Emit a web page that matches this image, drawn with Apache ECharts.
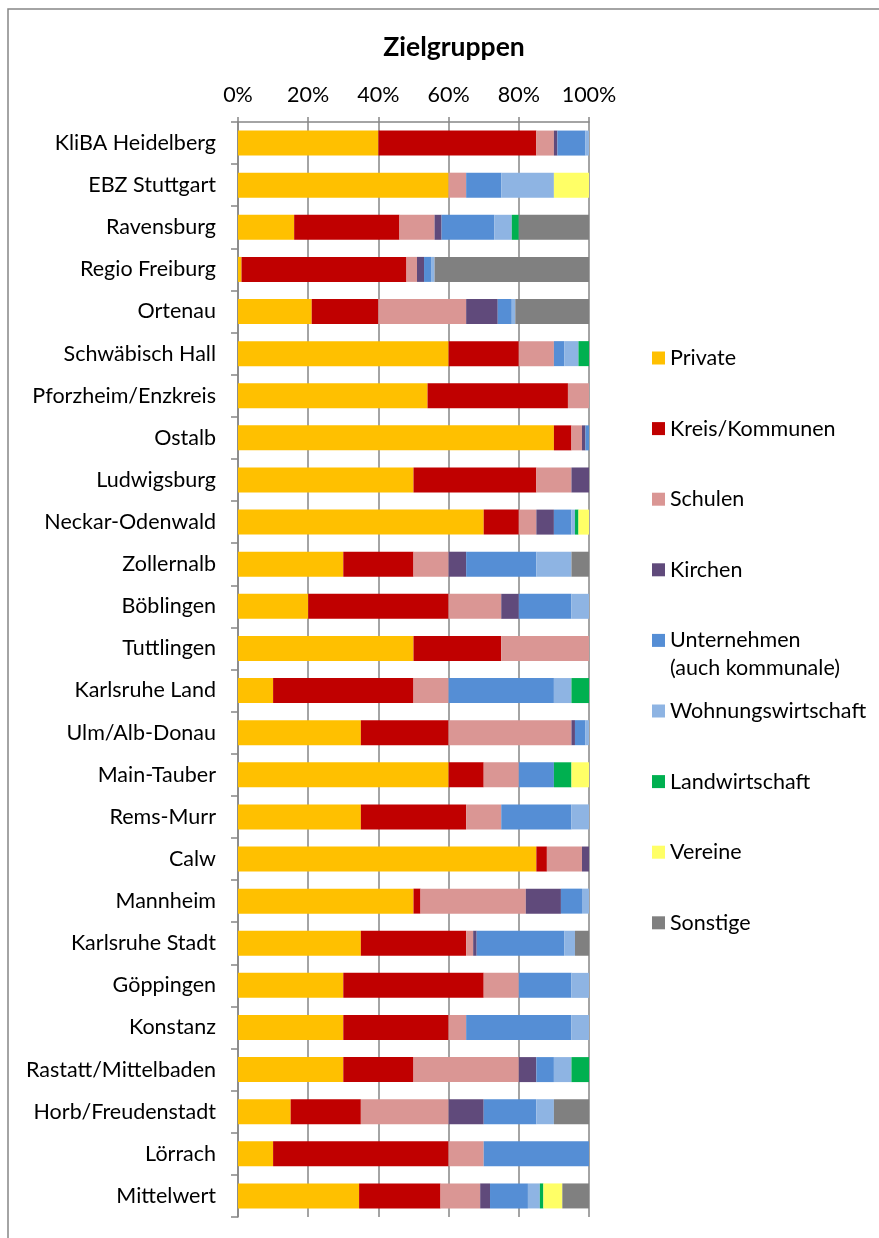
<!DOCTYPE html>
<html>
<head>
<meta charset="utf-8">
<script src="https://cdn.jsdelivr.net/npm/echarts@6/dist/echarts.min.js"></script>
<style>
  html, body { margin: 0; padding: 0; background: #fff; overflow: hidden; }
  #chart { width: 879px; height: 1238px; }
</style>
</head>
<body>
<div id="chart"></div>
<script>
// Regionen (von oben nach unten)
const regionen = ['KliBA Heidelberg', 'EBZ Stuttgart', 'Ravensburg', 'Regio Freiburg', 'Ortenau',
    'Schwäbisch Hall', 'Pforzheim/Enzkreis', 'Ostalb', 'Ludwigsburg', 'Neckar-Odenwald',
    'Zollernalb', 'Böblingen', 'Tuttlingen', 'Karlsruhe Land', 'Ulm/Alb-Donau', 'Main-Tauber',
    'Rems-Murr', 'Calw', 'Mannheim', 'Karlsruhe Stadt', 'Göppingen', 'Konstanz',
    'Rastatt/Mittelbaden', 'Horb/Freudenstadt', 'Lörrach', 'Mittelwert'];

// Anteile je Zielgruppe in %
const privat        = [40, 60, 16, 1, 21, 60, 54, 90, 50, 70, 30, 20, 50, 10, 35, 60, 35, 85, 50, 35, 30, 30, 30, 15, 10, 34.5];
const kreis         = [45, 0, 30, 47, 19, 20, 40, 5, 35, 10, 20, 40, 25, 40, 25, 10, 30, 3, 2, 30, 40, 30, 20, 20, 50, 23.2];
const schulen       = [5, 5, 10, 3, 25, 10, 6, 3, 10, 5, 10, 15, 25, 10, 35, 10, 10, 10, 30, 2, 10, 5, 30, 25, 10, 11.3];
const kirchen       = [1, 0, 2, 2, 9, 0, 0, 1, 5, 5, 5, 5, 0, 0, 1, 0, 0, 2, 10, 1, 0, 0, 5, 10, 0, 2.8];
const unternehmen   = [8, 10, 15, 2, 4, 3, 0, 1, 0, 5, 20, 15, 0, 30, 3, 10, 20, 0, 6, 25, 15, 30, 5, 15, 30, 10.8];
const wohnung       = [1, 15, 5, 1, 1, 4, 0, 0, 0, 1, 10, 5, 0, 5, 1, 0, 5, 0, 2, 3, 5, 5, 5, 5, 0, 3.4];
const landwirtschaft = [0, 0, 2, 0, 0, 3, 0, 0, 0, 1, 0, 0, 0, 5, 0, 5, 0, 0, 0, 0, 0, 0, 5, 0, 0, 1.0];
const vereine       = [0, 10, 0, 0, 0, 0, 0, 0, 0, 3, 0, 0, 0, 0, 0, 5, 0, 0, 0, 0, 0, 0, 0, 0, 0, 5.4];
const sonstige      = [0, 0, 20, 44, 21, 0, 0, 0, 0, 0, 5, 0, 0, 0, 0, 0, 0, 0, 0, 4, 0, 0, 0, 10, 0, 7.6];

const gruppen = ['Private', 'Kreis/Kommunen', 'Schulen', 'Kirchen', 'Unternehmen (auch kommunale)',
    'Wohnungswirtschaft', 'Landwirtschaft', 'Vereine', 'Sonstige'];
const werte = [privat, kreis, schulen, kirchen, unternehmen, wohnung, landwirtschaft, vereine, sonstige];
const farben = ['#FFC000', '#C00000', '#DA9694', '#604A7B', '#558ED5', '#8EB4E3', '#00B050', '#FFFF66', '#808080'];
const xTicks = [0, 20, 40, 60, 80, 100];

const FONT = 'Lato';
const GRAU = '#868686';

// Legende: jeder Eintrag einzeln, damit die Abstaende wie im Original sind
function buildLegends() {
    return gruppen.map((name, i) => {
        const mitte = 358 + i * 70.6;
        const zweizeilig = name.indexOf('(') > 0;
        return {
            data: [name],
            orient: 'vertical',
            left: 652,
            top: zweizeilig ? mitte - 42 : mitte - 12,
            padding: 0,
            itemWidth: 13,
            itemHeight: 13,
            icon: 'rect',
            selectedMode: false,
            // leere erste Zeile, damit das Symbol neben der ersten Textzeile steht
            formatter: n => (n.indexOf('(') > 0 ? '\n' + n.replace(' (', '\n(') : n),
            textStyle: {
                fontFamily: FONT,
                fontSize: 21.5,
                color: '#000',
                lineHeight: zweizeilig ? 28 : 24
            }
        };
    });
}

const chart = echarts.init(document.getElementById('chart'));
chart.setOption({
    animation: false,
    backgroundColor: '#fff',
    title: {
        text: 'Zielgruppen',
        left: 449,
        top: 29,
        textAlign: 'center',
        textStyle: { fontFamily: FONT, fontSize: 26.5, fontWeight: 'bold', color: '#000' }
    },
    graphic: [{
        type: 'rect',
        shape: { x: 8, y: 9, width: 2000, height: 2000 },
        style: { fill: 'none', stroke: GRAU, lineWidth: 1.5 },
        silent: true
    }],
    legend: buildLegends(),
    grid: { left: 238, right: 290, top: 122, bottom: 21 },
    xAxis: {
        type: 'value',
        position: 'top',
        min: 0,
        max: 100,
        interval: 20,
        axisLine: { show: true, lineStyle: { color: GRAU, width: 1.5 } },
        axisTick: { show: true, length: 5, lineStyle: { color: GRAU, width: 1.5 } },
        splitLine: { show: true, lineStyle: { color: GRAU, width: 1.5 } },
        axisLabel: {
            margin: 16,
            fontFamily: FONT,
            fontSize: 21.5,
            color: '#000',
            formatter: v => (xTicks.includes(v) ? v + '%' : '')
        }
    },
    yAxis: {
        type: 'category',
        inverse: true,
        data: regionen,
        axisLine: { show: true, lineStyle: { color: GRAU, width: 1.5 } },
        axisTick: { show: true, length: 7, lineStyle: { color: GRAU, width: 1.5 } },
        splitLine: { show: false },
        axisLabel: { margin: 22, fontFamily: FONT, fontSize: 21.5, color: '#000' }
    },
    series: gruppen.map((name, i) => ({
        name: name,
        type: 'bar',
        stack: 'gesamt',
        barWidth: 25,
        data: werte[i],
        itemStyle: { color: farben[i] }
    }))
});
</script>
</body>
</html>
